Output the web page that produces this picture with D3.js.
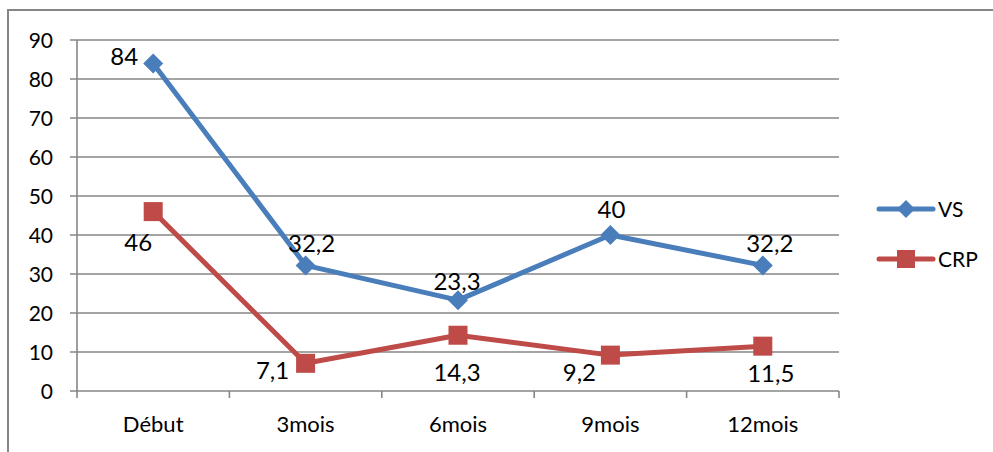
<!DOCTYPE html>
<html>
<head>
<meta charset="utf-8">
<script src="https://cdn.jsdelivr.net/npm/d3@7"></script>
<style>
  html, body { margin: 0; padding: 0; background: #fff; }
  svg { display: block; font-family: Lato, "Open Sans", sans-serif; }
</style>
</head>
<body>
<svg id="chart" width="993" height="452"></svg>
<script>
// Suivi des marqueurs inflammatoires
const categories = ["Début", "3mois", "6mois", "9mois", "12mois"];
const vsValues = [84, 32.2, 23.3, 40, 32.2];
const crpValues = [46, 7.1, 14.3, 9.2, 11.5];
const yTicks = [0, 10, 20, 30, 40, 50, 60, 70, 80, 90];
const seriesNames = ["VS", "CRP"];

// label placement relative to each point (dx, dy)
const vsLabelOffsets = [[-29, -7], [6, -22], [-1, -19], [1, -26], [7, -22]];
const crpLabelOffsets = [[-15, 31], [-33, 7], [-1, 37], [-31, 17], [8, 27]];

const fmt = v => String(v).replace(".", ",");

const svg = d3.select("#chart");
const plot = { left: 77, right: 839, top: 40, bottom: 391 };

const x = d3.scaleBand().domain(categories).range([plot.left, plot.right]);
const y = d3.scaleLinear().domain([0, 90]).range([plot.bottom, plot.top]);

const gridColor = "#868686";
const blue = "#4a7ebb";
const red = "#be4b48";

// outer frame
svg.append("rect")
  .attr("x", 8).attr("y", 10).attr("width", 1000).attr("height", 500)
  .attr("fill", "none").attr("stroke", gridColor).attr("stroke-width", 2);

// horizontal gridlines with left tick marks
svg.append("g").selectAll("line").data(yTicks).join("line")
  .attr("x1", plot.left - 7).attr("x2", plot.right)
  .attr("y1", d => y(d)).attr("y2", d => y(d))
  .attr("stroke", gridColor).attr("stroke-width", 1.6);

// y axis line
svg.append("line")
  .attr("x1", plot.left).attr("x2", plot.left)
  .attr("y1", plot.top).attr("y2", plot.bottom + 1)
  .attr("stroke", gridColor).attr("stroke-width", 1.6);

// x axis tick marks at category boundaries
const bounds = categories.map(c => x(c)).concat([plot.right]);
svg.append("g").selectAll("line").data(bounds).join("line")
  .attr("x1", d => d).attr("x2", d => d)
  .attr("y1", plot.bottom).attr("y2", plot.bottom + 7)
  .attr("stroke", gridColor).attr("stroke-width", 1.6);

// y tick labels
svg.append("g").selectAll("text").data(yTicks).join("text")
  .attr("x", 53).attr("y", d => y(d))
  .attr("dy", "0.36em")
  .attr("text-anchor", "end")
  .attr("font-size", 21).attr("fill", "#000")
  .text(d => d);

// category labels
svg.append("g").selectAll("text").data(categories).join("text")
  .attr("x", d => x(d) + x.bandwidth() / 2).attr("y", 424)
  .attr("dy", "0.36em")
  .attr("text-anchor", "middle")
  .attr("font-size", 22).attr("fill", "#000")
  .text(d => d);

const cx = c => x(c) + x.bandwidth() / 2;
const line = d3.line().x(d => cx(d.c)).y(d => y(d.v));

const vsData = categories.map((c, i) => ({ c, v: vsValues[i] }));
const crpData = categories.map((c, i) => ({ c, v: crpValues[i] }));

const diamond = (px, py, r) => `M${px},${py - r}L${px + r},${py}L${px},${py + r}L${px - r},${py}Z`;
const SQ = 19;

// CRP series
svg.append("path").datum(crpData)
  .attr("d", line).attr("fill", "none")
  .attr("stroke", red).attr("stroke-width", 5).attr("stroke-linejoin", "round");
svg.append("g").selectAll("rect").data(crpData).join("rect")
  .attr("x", d => cx(d.c) - SQ / 2).attr("y", d => y(d.v) - SQ / 2)
  .attr("width", SQ).attr("height", SQ).attr("fill", red);

// VS series
svg.append("path").datum(vsData)
  .attr("d", line).attr("fill", "none")
  .attr("stroke", blue).attr("stroke-width", 5).attr("stroke-linejoin", "round");
svg.append("g").selectAll("path").data(vsData).join("path")
  .attr("d", d => diamond(cx(d.c), y(d.v), 10)).attr("fill", blue);

// value labels
const labelFont = 24;
svg.append("g").selectAll("text").data(vsData).join("text")
  .attr("x", (d, i) => cx(d.c) + vsLabelOffsets[i][0])
  .attr("y", (d, i) => y(d.v) + vsLabelOffsets[i][1])
  .attr("dy", "0.36em").attr("text-anchor", "middle")
  .attr("font-size", labelFont).attr("fill", "#000")
  .text(d => fmt(d.v));
svg.append("g").selectAll("text").data(crpData).join("text")
  .attr("x", (d, i) => cx(d.c) + crpLabelOffsets[i][0])
  .attr("y", (d, i) => y(d.v) + crpLabelOffsets[i][1])
  .attr("dy", "0.36em").attr("text-anchor", "middle")
  .attr("font-size", labelFont).attr("fill", "#000")
  .text(d => fmt(d.v));

// legend
const legend = svg.append("g");
const legendRows = [
  { name: seriesNames[0], color: blue, y: 209, marker: "diamond" },
  { name: seriesNames[1], color: red, y: 259, marker: "square" }
];
legendRows.forEach(r => {
  legend.append("line")
    .attr("x1", 879).attr("x2", 933).attr("y1", r.y).attr("y2", r.y)
    .attr("stroke", r.color).attr("stroke-width", 5).attr("stroke-linecap", "round");
  if (r.marker === "diamond") {
    legend.append("path").attr("d", diamond(906, r.y, 9)).attr("fill", r.color);
  } else {
    legend.append("rect").attr("x", 906 - 9).attr("y", r.y - 9)
      .attr("width", 18).attr("height", 18).attr("fill", r.color);
  }
  legend.append("text")
    .attr("x", 938).attr("y", r.y).attr("dy", "0.36em")
    .attr("font-size", 21).attr("fill", "#000")
    .text(r.name);
});
</script>
</body>
</html>
